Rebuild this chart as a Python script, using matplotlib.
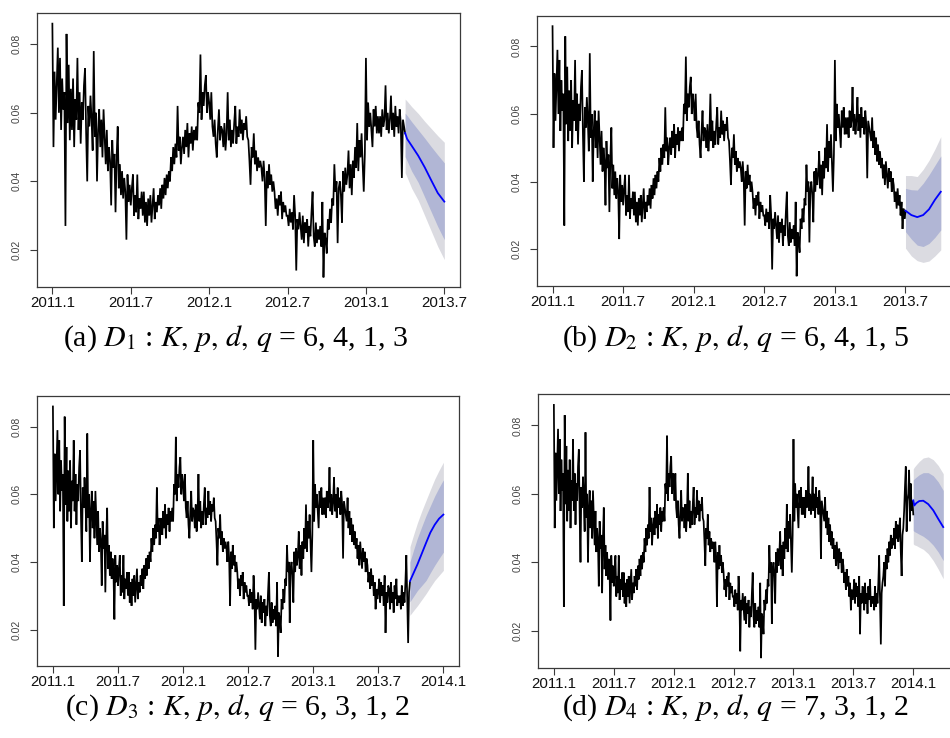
import numpy as np
import matplotlib
matplotlib.use("Agg")
import matplotlib.pyplot as plt

plt.rcParams["mathtext.fontset"] = "stix"

# ---------------- data (values in units of 1e-3, 12 samples per month) ----------------
PER_MONTH = 12
rate_2011_h1 = [86, 50, 72, 58, 68, 79, 60, 76, 55, 70, 61, 66,
                27, 83, 57, 74, 52, 67, 55, 70, 50, 64, 58, 76,
                55, 66, 51, 63, 58, 68, 73, 54, 40, 62, 56, 65,
                58, 49, 78, 53, 60, 40, 55, 61, 50, 58, 47, 61,
                53, 45, 55, 43, 50, 46, 33, 52, 44, 48, 31, 47,
                56, 38, 45, 36, 43, 35, 41, 37, 23, 42, 34, 39]
rate_2011_h2 = [33, 38, 42, 30, 36, 31, 42, 29, 35, 32, 37, 30,
                37, 28, 34, 27, 35, 30, 36, 28, 33, 38, 29, 34,
                31, 36, 33, 38, 32, 39, 35, 41, 36, 42, 38, 43,
                40, 47, 43, 50, 45, 51, 47, 62, 49, 53, 45, 50,
                53, 48, 55, 50, 57, 47, 54, 51, 56, 49, 55, 52,
                56, 52, 63, 60, 77, 58, 66, 62, 68, 71, 60, 66]
rate_2012_h1 = [63, 58, 66, 56, 53, 58, 51, 47, 55, 61, 52, 56,
                55, 50, 57, 49, 54, 66, 52, 58, 50, 55, 51, 57,
                62, 51, 56, 53, 61, 54, 58, 52, 57, 55, 59, 53,
                52, 46, 39, 50, 47, 54, 45, 49, 43, 47, 44, 46,
                44, 40, 46, 41, 27, 43, 38, 45, 39, 42, 37, 40,
                37, 32, 35, 30, 36, 33, 37, 29, 34, 31, 33, 30]
rate_2012_h2 = [30, 27, 32, 28, 31, 26, 36, 30, 14, 29, 26, 31,
                27, 23, 30, 22, 28, 25, 29, 21, 27, 24, 31, 37,
                24, 21, 28, 22, 26, 23, 27, 21, 34, 12, 25, 23,
                19, 29, 26, 32, 28, 35, 33, 45, 37, 40, 22, 38,
                40, 36, 28, 43, 37, 44, 39, 42, 49, 38, 45, 36,
                46, 41, 50, 44, 57, 43, 52, 47, 54, 45, 37, 48]
rate_2013_h1 = [76, 52, 63, 56, 60, 55, 50, 61, 56, 62, 54, 59,
                54, 59, 53, 61, 56, 58, 68, 55, 60, 54, 58, 65,
                55, 60, 53, 62, 56, 59, 54, 61, 57, 41, 58, 56,
                54, 52, 59, 50, 55, 48, 53, 46, 51, 45, 49, 44,
                47, 41, 45, 39, 46, 42, 38, 44, 40, 43, 37, 41,
                39, 34, 37, 32, 38, 33, 36, 30, 34, 26, 32, 29]
rate_2013_h2 = [31, 35, 28, 34, 30, 33, 27, 36, 19, 31, 28, 33,
                32, 26, 34, 28, 31, 25, 33, 29, 35, 27, 30, 28,
                30, 26, 33, 27, 31, 28, 34, 42, 29, 16, 31, 34,
                36, 40, 33, 42, 38, 44, 40, 46, 42, 48, 44, 47,
                45, 50, 44, 52, 47, 51, 46, 49, 53, 43, 36, 48,
                50, 55, 62, 68, 49, 58, 60, 67, 52, 63, 55, 58]
rate_2014_start = [54]

# end of each training set (months since 2011.1)
end_month = {"a": 27.0, "b": 30.0, "c": 32 + 11 / 12, "d": 36.0}

# forecasts: times (months) and mean / 80% / 95% bounds (units 1e-3)
fc_a_t = [27.0, 27.15, 27.5, 28.0, 28.5, 29.0, 29.5, 30.0]
fc_a_mean = [54.1, 52.4, 50.4, 47.5, 44.1, 40.3, 36.6, 34.1]
fc_a_lo80 = [47.2, 46.0, 43.0, 39.7, 35.4, 31.1, 26.8, 23.0]
fc_a_hi80 = [59.9, 59.2, 57.4, 55.0, 52.6, 50.1, 47.7, 45.4]
fc_a_lo95 = [42.5, 41.2, 38.0, 34.5, 30.0, 25.5, 21.0, 17.2]
fc_a_hi95 = [64.0, 63.4, 61.8, 59.8, 57.5, 55.4, 53.3, 51.4]

fc_b_t = [30.0, 30.5, 31.0, 31.5, 32.0, 32.5, 33.0]
fc_b_mean = [31.4, 30.1, 29.5, 30.1, 31.8, 34.6, 37.0]
fc_b_lo80 = [25.2, 23.0, 21.2, 20.8, 21.7, 23.5, 25.7]
fc_b_hi80 = [38.0, 37.6, 37.5, 39.5, 42.0, 44.8, 47.6]
fc_b_lo95 = [20.3, 18.0, 16.6, 16.1, 16.5, 18.0, 19.8]
fc_b_hi95 = [41.8, 41.8, 41.5, 43.6, 46.3, 49.6, 53.3]

fc_c_t = [32 + 11 / 12, 33.25, 33.6, 34.0, 34.4, 34.8, 35.2, 35.6, 36.0]
fc_c_mean = [34.3, 36.7, 39.2, 42.4, 45.6, 48.7, 51.0, 52.8, 54.0]
fc_c_lo80 = [28.2, 29.8, 31.5, 33.0, 34.5, 36.8, 39.0, 41.0, 42.9]
fc_c_hi80 = [40.0, 43.5, 47.0, 50.4, 53.7, 56.6, 59.5, 62.0, 64.3]
fc_c_lo95 = [24.2, 25.6, 27.0, 28.8, 30.6, 32.6, 34.5, 36.0, 37.5]
fc_c_hi95 = [44.5, 48.0, 51.5, 55.0, 58.2, 61.4, 64.5, 67.1, 69.5]

fc_d_t = [36.0, 36.1, 36.3, 36.6, 37.0, 37.5, 38.0, 38.5, 39.0]
fc_d_mean = [58.1, 56.6, 57.3, 57.9, 58.0, 57.0, 55.2, 52.7, 50.3]
fc_d_lo80 = [49.3, 49.0, 48.7, 48.2, 47.6, 46.5, 45.0, 43.0, 40.5]
fc_d_hi80 = [64.1, 64.4, 64.9, 65.6, 66.2, 66.2, 65.3, 63.5, 61.0]
fc_d_lo95 = [45.4, 45.1, 44.9, 44.4, 43.8, 42.5, 40.5, 38.0, 35.2]
fc_d_hi95 = [67.3, 67.8, 68.5, 69.5, 70.5, 70.8, 70.0, 68.3, 65.9]

tick_months = [0, 6, 12, 18, 24, 30, 36]
tick_labels = ["2011.1", "2011.7", "2012.1", "2012.7", "2013.1", "2013.7", "2014.1"]
ytick_vals = [0.02, 0.04, 0.06, 0.08]
ytick_labels = ["0.02", "0.04", "0.06", "0.08"]

captions = {
    "a": r"(a) $D_1$ : $K,\, p,\, d,\, q$ = 6, 4, 1, 3",
    "b": r"(b) $D_2$ : $K,\, p,\, d,\, q$ = 6, 4, 1, 5",
    "c": r"(c) $D_3$ : $K,\, p,\, d,\, q$ = 6, 3, 1, 2",
    "d": r"(d) $D_4$ : $K,\, p,\, d,\, q$ = 7, 3, 1, 2",
}

# ---------------- build ----------------
series = np.array(rate_2011_h1 + rate_2011_h2 + rate_2012_h1 + rate_2012_h2
                  + rate_2013_h1 + rate_2013_h2 + rate_2014_start) / 1000.0
t = np.arange(len(series)) / PER_MONTH

forecasts = {
    "a": (fc_a_t, fc_a_mean, fc_a_lo80, fc_a_hi80, fc_a_lo95, fc_a_hi95),
    "b": (fc_b_t, fc_b_mean, fc_b_lo80, fc_b_hi80, fc_b_lo95, fc_b_hi95),
    "c": (fc_c_t, fc_c_mean, fc_c_lo80, fc_c_hi80, fc_c_lo95, fc_c_hi95),
    "d": (fc_d_t, fc_d_mean, fc_d_lo80, fc_d_hi80, fc_d_lo95, fc_d_hi95),
}

W, H = 950, 738
fig = plt.figure(figsize=(W / 100, H / 100), dpi=100)

# axes rectangles in pixels: left, top, right, bottom
rects = {
    "a": (36.7, 13.0, 460.0, 287.0),
    "b": (537.0, 15.7, 956.3, 285.7),
    "c": (37.3, 396.0, 459.0, 666.0),
    "d": (538.3, 394.3, 958.8, 667.7),
}
cap_pos = {"a": (236, 339), "b": (736, 339), "c": (237, 708), "d": (735, 708)}

LIGHT = "#dbdbe1"
DARK = "#b1b6d5"
EDGE = "#3a3a3a"

for key in ["a", "b", "c", "d"]:
    l, tp, r, b = rects[key]
    ax = fig.add_axes([l / W, 1 - b / H, (r - l) / W, (b - tp) / H])
    end = end_month[key]
    n = int(round(end * PER_MONTH)) + 1
    ft, fm, lo80, hi80, lo95, hi95 = [np.asarray(v, float) for v in forecasts[key]]
    ax.fill_between(ft, lo95 / 1000, hi95 / 1000, color=LIGHT, lw=0)
    ax.fill_between(ft, lo80 / 1000, hi80 / 1000, color=DARK, lw=0)
    ax.plot(t[:n], series[:n], color="black", lw=1.25, solid_joinstyle="miter")
    ax.plot(ft, fm / 1000, color="#0000ff", lw=1.3)

    span = ft[-1]
    pad = 0.04 * span
    ax.set_xlim(-pad, span + pad)
    ax.set_ylim(0.0092, 0.0891)

    nt = [m for m in tick_months if m <= span + 1e-9]
    ax.set_xticks(nt)
    ax.set_xticklabels(tick_labels[:len(nt)], fontsize=10.8, family="Liberation Sans", color="#111111")
    ax.set_yticks(ytick_vals)
    ax.set_yticklabels(ytick_labels, fontsize=7.5, family="Liberation Sans", color="#444444",
                       rotation=90, va="center")
    ax.tick_params(axis="x", direction="out", length=5, width=0.8, color=EDGE, pad=1.5)
    ax.tick_params(axis="y", direction="out", length=5, width=0.8, color=EDGE, pad=6)
    for s in ax.spines.values():
        s.set_color(EDGE)
        s.set_linewidth(0.9)

    cx, cy = cap_pos[key]
    fig.text(cx / W, 1 - cy / H, captions[key], ha="center", va="center",
             fontsize=21.5, family="Liberation Serif")

fig.savefig("out.png", dpi=100)
